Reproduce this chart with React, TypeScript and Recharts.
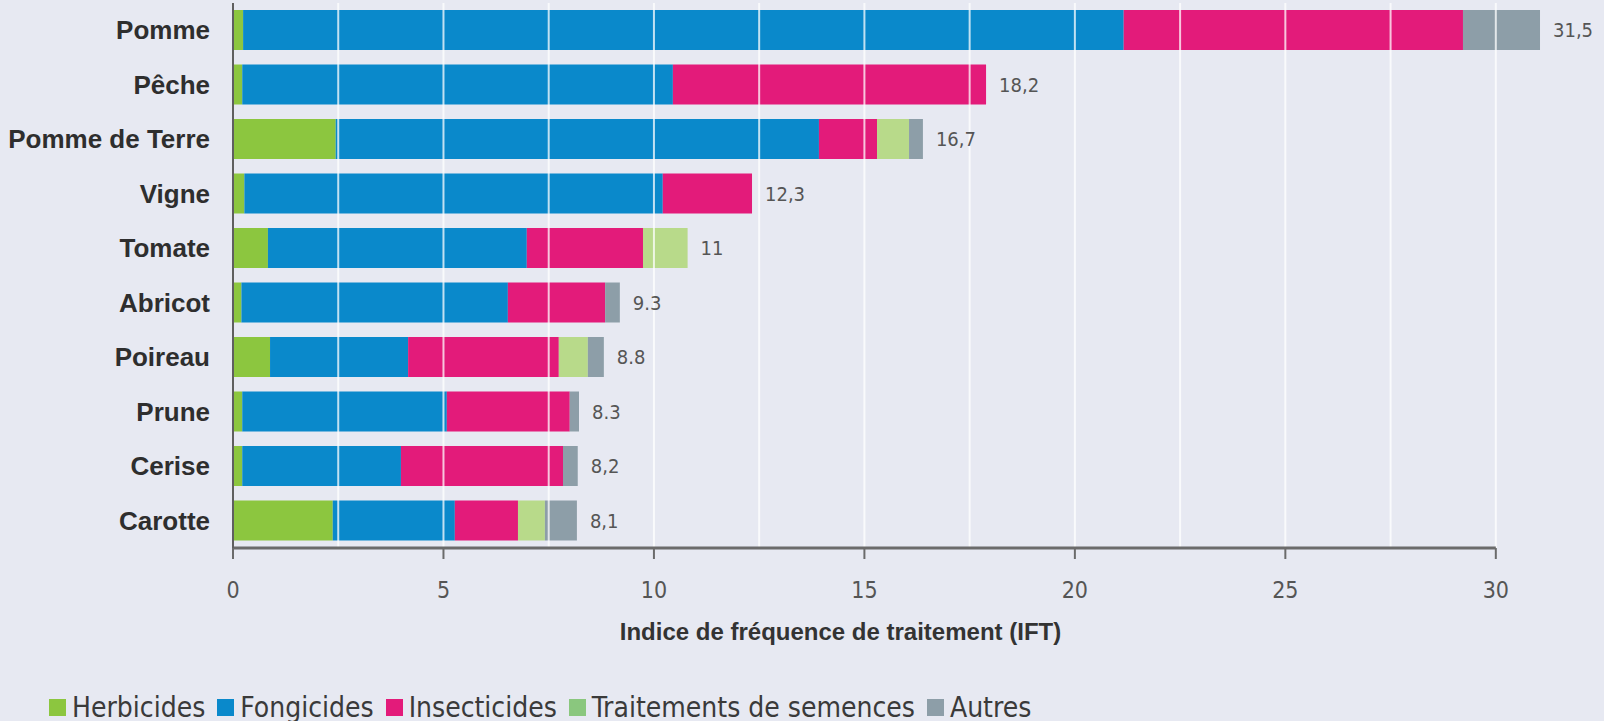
import { BarChart, Bar, XAxis, YAxis, ReferenceLine, ReferenceDot, Label } from "recharts"

// crops, top to bottom
const crops = ["Pomme", "Pêche", "Pomme de Terre", "Vigne", "Tomate", "Abricot", "Poireau", "Prune", "Cerise", "Carotte"]

// IFT per treatment type
const herbicides = [0.24, 0.22, 2.44, 0.27, 0.83, 0.2, 0.88, 0.22, 0.22, 2.37]
const fongicides = [20.92, 10.23, 11.48, 9.94, 6.15, 6.33, 3.28, 4.86, 3.77, 2.9]
const insecticides = [8.06, 7.44, 1.38, 2.12, 2.76, 2.31, 3.58, 2.92, 3.85, 1.5]
const semences = [0, 0, 0.76, 0, 1.06, 0, 0.69, 0, 0, 0.64]
const autres = [1.83, 0, 0.33, 0, 0, 0.35, 0.38, 0.22, 0.35, 0.76]

// printed totals at the end of each bar
const totals = ["31,5", "18,2", "16,7", "12,3", "11", "9.3", "8.8", "8.3", "8,2", "8,1"]

const gridTicks = [0, 2.5, 5, 7.5, 10, 12.5, 15, 17.5, 20, 22.5, 25, 27.5, 30]
const labelEvery = 5
const axisEnd = 30

const series = [
  { key: "herbicides", name: "Herbicides", color: "#8cc63f", legend: "#8cc63f" },
  { key: "fongicides", name: "Fongicides", color: "#0a89cb", legend: "#0a89cb" },
  { key: "insecticides", name: "Insecticides", color: "#e31b7a", legend: "#e31b7a" },
  { key: "semences", name: "Traitements de semences", color: "#b8da8a", legend: "#8ac77e" },
  { key: "autres", name: "Autres", color: "#8d9ea8", legend: "#8d9ea8" },
]

const data = crops.map((crop, i) => ({
  crop,
  herbicides: herbicides[i],
  fongicides: fongicides[i],
  insecticides: insecticides[i],
  semences: semences[i],
  autres: autres[i],
}))

// end of each stacked bar, where its total is printed
const barEnds = crops.map((_, i) => herbicides[i] + fongicides[i] + insecticides[i] + semences[i] + autres[i])

const narrow = "'Liberation Sans Narrow', 'DejaVu Sans Condensed', 'Liberation Sans', Arial, sans-serif"
const sans = "'Liberation Sans', Arial, sans-serif"

const XTick = ({ x, y, payload }: any) => {
  if (payload.value % labelEvery !== 0) return <g />
  return (
    <g>
      <line x1={x} x2={x} y1={y} y2={y + 11} stroke="#6b6b6b" strokeWidth={2} />
      <text x={x} y={y + 42} textAnchor="middle" dominantBaseline="central" fill="#555" fontSize={23} fontFamily={narrow}>
        {payload.value}
      </text>
    </g>
  )
}

export default function App() {
  return (
    <div style={{ position: "absolute", left: 0, top: 0, width: 1604, height: 721, background: "#e7e9f2" }}>
      <BarChart
        width={1604}
        height={721}
        data={data}
        layout="vertical"
        margin={{ top: 3, right: 24, left: 0, bottom: 81 }}
      >
        <XAxis
          type="number"
          domain={[0, 32]}
          ticks={gridTicks}
          interval={0}
          tick={<XTick />}
          tickLine={false}
          axisLine={false}
          tickSize={0}
          tickMargin={0}
          height={92}
        >
          <Label
            value="Indice de fréquence de traitement (IFT)"
            position="insideBottom"
            dx={-66}
            offset={0}
            style={{ fontFamily: sans, fontWeight: 700, fontSize: 24, fill: "#333" }}
          />
        </XAxis>
        <YAxis
          type="category"
          dataKey="crop"
          width={233}
          tickLine={false}
          tickSize={0}
          tickMargin={23}
          axisLine={{ stroke: "#5f5f5f", strokeWidth: 2 }}
          tick={{ fill: "#2e2e2e", fontSize: 26, fontWeight: 700, fontFamily: sans }}
        />
        {series.map((s) => (
          <Bar
            key={s.key}
            dataKey={s.key}
            name={s.name}
            stackId="ift"
            fill={s.color}
            barSize={40}
            isAnimationActive={false}
          />
        ))}
        {gridTicks.filter((t) => t > 0).map((t) => (
          <ReferenceLine key={t} x={t} stroke="#ffffff" strokeOpacity={0.75} strokeWidth={2} />
        ))}
        <ReferenceLine
          segment={[
            { x: 0, y: crops[crops.length - 1] },
            { x: axisEnd, y: crops[crops.length - 1] },
          ]}
          position="end"
          stroke="#6b6b6b"
          strokeWidth={3}
        />
        {crops.map((crop, i) => (
          <ReferenceDot
            key={crop}
            x={barEnds[i]}
            y={crop}
            r={0}
            stroke="none"
            fill="none"
            label={{
              value: totals[i],
              position: "right",
              offset: 13,
              style: { fill: "#555", fontSize: 20, fontFamily: narrow },
            }}
          />
        ))}
      </BarChart>

      {/* Legend */}
      <div
        style={{
          position: "absolute",
          left: 49,
          top: 691,
          display: "flex",
          alignItems: "center",
          fontFamily: narrow,
          fontSize: 28,
          color: "#3a3a3a",
          whiteSpace: "nowrap",
        }}
      >
        {series.map((s) => (
          <div key={s.key} style={{ display: "flex", alignItems: "center", marginRight: 12 }}>
            <span style={{ display: "inline-block", width: 17, height: 17, background: s.legend, marginRight: 6 }} />
            <span>{s.name}</span>
          </div>
        ))}
      </div>
    </div>
  )
}
